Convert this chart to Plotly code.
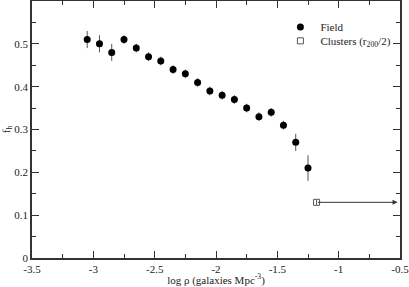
import plotly.graph_objects as go

# Field data
log_rho = [-3.05, -2.95, -2.85, -2.75, -2.65, -2.55, -2.45, -2.35, -2.25, -2.15,
           -2.05, -1.95, -1.85, -1.75, -1.65, -1.55, -1.45, -1.35, -1.25]
f_h = [0.51, 0.50, 0.48, 0.51, 0.49, 0.47, 0.46, 0.44, 0.43, 0.41,
       0.39, 0.38, 0.37, 0.35, 0.33, 0.34, 0.31, 0.27, 0.21]
f_err = [0.02, 0.02, 0.02, 0.01, 0.01, 0.01, 0.01, 0.01, 0.01, 0.01,
         0.01, 0.01, 0.01, 0.01, 0.01, 0.01, 0.01, 0.02, 0.03]

# Clusters
cl_x = [-1.18]
cl_y = [0.13]
cl_err = [0.006]
cl_arrow_end = -0.52

xticks = [-3.5, -3, -2.5, -2, -1.5, -1, -0.5]
xticklabels = ["-3.5", "-3", "-2.5", "-2", "-1.5", "-1", "-0.5"]
yticks = [0, 0.1, 0.2, 0.3, 0.4, 0.5]
yticklabels = ["0", "0.1", "0.2", "0.3", "0.4", "0.5"]

font = "Liberation Serif"

fig = go.Figure()
fig.add_trace(go.Scatter(
    x=log_rho, y=f_h, mode="markers", name="Field", legend="legend",
    marker=dict(symbol="circle", size=7, color="black"),
    error_y=dict(type="data", array=f_err, color="#555555", thickness=1, width=0),
))
fig.add_trace(go.Scatter(
    x=cl_x, y=cl_y, mode="markers", name="Clusters (r<sub>200</sub>/2)", legend="legend2",
    marker=dict(symbol="square-open", size=6, color="#555555", line=dict(width=1)),
    error_y=dict(type="data", array=cl_err, color="#555555", thickness=1, width=0),
))
fig.add_annotation(
    x=cl_arrow_end, y=cl_y[0], ax=cl_x[0], ay=cl_y[0],
    xref="x", yref="y", axref="x", ayref="y",
    text="", showarrow=True, arrowhead=2, arrowsize=1, arrowwidth=1,
    arrowcolor="#333333",
)

axis_common = dict(
    showgrid=False, zeroline=False, showline=True, linecolor="#333333", linewidth=1.5,
    mirror="allticks", ticks="inside", ticklen=7, tickcolor="#333333", tickwidth=1,
    tickfont=dict(family=font, size=11, color="#222222"), automargin=False,
    ticklabeloverflow="allow",
)

legend_common = dict(xanchor="left", yanchor="middle", bgcolor="rgba(0,0,0,0)",
                     font=dict(family=font, size=11), itemwidth=30)

fig.update_layout(
    width=409, height=287,
    margin=dict(l=32, r=9, t=1, b=29),
    paper_bgcolor="white", plot_bgcolor="white",
    font=dict(family=font, size=11, color="#222222"),
    showlegend=True,
    legend=dict(x=0.675, y=1 - (27 - 1) / 258, **legend_common),
    legend2=dict(x=0.675, y=1 - (41 - 1) / 258, **legend_common),
    xaxis=dict(range=[-3.5, -0.5], tickvals=xticks, ticktext=xticklabels,
               minor=dict(dtick=0.25, ticks="inside", ticklen=4, tickcolor="#333333"),
               title=dict(text="log ρ (galaxies Mpc<sup>-3</sup>)", standoff=2,
                          font=dict(family=font, size=11)),
               **axis_common),
    yaxis=dict(range=[0, 0.6], tickvals=yticks, ticktext=yticklabels,
               minor=dict(dtick=0.05, ticks="inside", ticklen=4, tickcolor="#333333"),
               title=dict(text="f<sub>h</sub>", standoff=4,
                          font=dict(family=font, size=11)),
               **axis_common),
)

fig.write_html("out.html", config={"displayModeBar": False},
               post_script="document.body.style.margin='0px';document.body.style.overflow='hidden';")
